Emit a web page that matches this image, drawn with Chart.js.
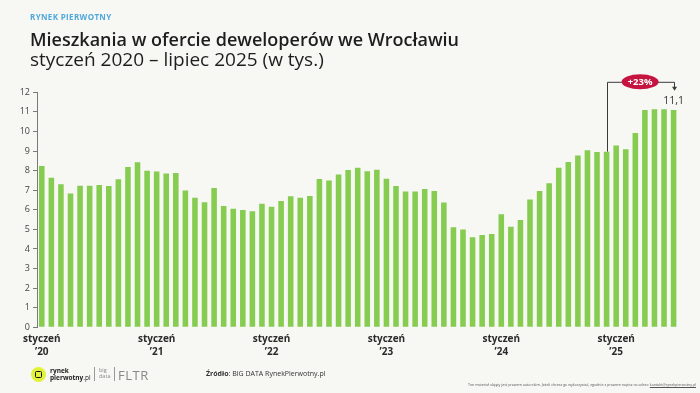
<!DOCTYPE html>
<html><head><meta charset="utf-8">
<script src="https://cdn.jsdelivr.net/npm/chart.js@4.4.1/dist/chart.umd.min.js"></script>
<style>
html,body{margin:0;padding:0;background:#f7f7f4;width:700px;height:393px;overflow:hidden;}
#wrap{position:relative;width:700px;height:393px;font-family:"Open Sans",sans-serif;}
#c{position:absolute;left:0;top:0;}
.kicker{position:absolute;left:30px;top:11px;font-size:8px;font-weight:700;color:#4ea8dc;letter-spacing:0.35px;white-space:nowrap;}
.title{position:absolute;left:30px;top:30px;font-size:19px;line-height:19.5px;color:#1e1e1e;white-space:nowrap;}
.title b{font-weight:600;font-size:18px;}
.logo{position:absolute;left:31px;top:367px;width:15px;height:15px;border-radius:50%;background:#e2f23a;}
.logo i{position:absolute;left:4px;top:4px;width:5px;height:5px;border:1.6px solid #111;border-radius:1.5px;}
.rp{position:absolute;left:50px;top:368px;font-size:6.5px;line-height:6.5px;font-weight:700;color:#222;}
.rp span{font-weight:400;}
.sep{position:absolute;top:367px;width:1px;height:14px;background:#999;}
.bd{position:absolute;left:99px;top:368px;font-size:5.5px;line-height:5.5px;color:#888;}
.fltr{position:absolute;left:118px;top:366px;font-size:13px;color:#888;letter-spacing:0.5px;}
.src{position:absolute;left:206px;top:369px;font-size:7px;color:#333;white-space:nowrap;}
.src b{font-weight:700;}
.disc{position:absolute;right:4px;top:382px;font-size:3.6px;color:#555;white-space:nowrap;}
.disc u{color:#555;}
</style></head>
<body><div id="wrap">
<canvas id="c" width="700" height="393"></canvas>
<div class="kicker">RYNEK PIERWOTNY</div>
<div class="title"><b>Mieszkania w ofercie deweloperów we Wrocławiu</b><br>styczeń 2020 – lipiec 2025 (w tys.)</div>
<div class="logo"><i></i></div>
<div class="rp">rynek<br>pierwotny<span>.pl</span></div>
<div class="sep" style="left:94px"></div>
<div class="bd">big<br>data</div>
<div class="sep" style="left:114px"></div>
<div class="fltr">FLTR</div>
<div class="src"><b>Źródło</b>: BIG DATA RynekPierwotny.pl</div>
<div class="disc">Ten materiał objęty jest prawem autorskim. Jeżeli chcesz go wykorzystać, zgodnie z prawem napisz na adres: <u>kontakt@rynekpierwotny.pl</u></div>
</div>
<script>
const months = [
 '2020-01','2020-02','2020-03','2020-04','2020-05','2020-06','2020-07','2020-08','2020-09','2020-10','2020-11','2020-12',
 '2021-01','2021-02','2021-03','2021-04','2021-05','2021-06','2021-07','2021-08','2021-09','2021-10','2021-11','2021-12',
 '2022-01','2022-02','2022-03','2022-04','2022-05','2022-06','2022-07','2022-08','2022-09','2022-10','2022-11','2022-12',
 '2023-01','2023-02','2023-03','2023-04','2023-05','2023-06','2023-07','2023-08','2023-09','2023-10','2023-11','2023-12',
 '2024-01','2024-02','2024-03','2024-04','2024-05','2024-06','2024-07','2024-08','2024-09','2024-10','2024-11','2024-12',
 '2025-01','2025-02','2025-03','2025-04','2025-05','2025-06','2025-07'
];
const offers = [
 8.24,7.64,7.30,6.83,7.23,7.23,7.27,7.22,7.56,8.19,8.43,8.00,
 7.95,7.85,7.88,6.98,6.62,6.38,7.11,6.20,6.05,5.99,5.92,6.31,
 6.16,6.45,6.69,6.62,6.71,7.57,7.49,7.80,8.03,8.15,7.97,8.05,
 7.59,7.22,6.93,6.93,7.06,6.96,6.37,5.11,4.99,4.60,4.71,4.76,
 5.77,5.14,5.48,6.52,6.96,7.35,8.15,8.44,8.77,9.04,8.95,8.97,
 9.28,9.09,9.92,11.10,11.13,11.13,11.10
];
const xTickMonths = ['2020-01','2021-01','2022-01','2023-01','2024-01','2025-01'];
const xTickLabels = [['styczeń','’20'],['styczeń','’21'],['styczeń','’22'],['styczeń','’23'],['styczeń','’24'],['styczeń','’25']];
const yTicks = [0,1,2,3,4,5,6,7,8,9,10,11,12];
const changeFrom = '2024-12';
const changeTo = '2025-07';
const changeText = '+23%';
const lastValueText = '11,1';

const annot = {
  id:'annot',
  afterDatasetsDraw(chart){
    const ctx = chart.ctx, meta = chart.getDatasetMeta(0);
    const a = meta.data[months.indexOf(changeFrom)], b = meta.data[months.indexOf(changeTo)];
    const yTop = chart.chartArea.top - 10.5;
    ctx.save();
    ctx.strokeStyle = '#3a3a3a'; ctx.lineWidth = 1;
    ctx.beginPath();
    ctx.moveTo(Math.round(a.x)+0.5, a.y);
    ctx.lineTo(Math.round(a.x)+0.5, yTop+0.5);
    ctx.lineTo(Math.round(b.x)+0.5, yTop+0.5);
    ctx.lineTo(Math.round(b.x)+0.5, yTop+6);
    ctx.stroke();
    ctx.fillStyle = '#3a3a3a';
    ctx.beginPath();
    const bx = Math.round(b.x)+0.5;
    ctx.moveTo(bx-2.5, yTop+5); ctx.lineTo(bx+2.5, yTop+5); ctx.lineTo(bx, yTop+9); ctx.closePath(); ctx.fill();
    const cx = (a.x+b.x)/2, w = 37, h = 15;
    ctx.fillStyle = '#c5143f';
    ctx.beginPath();
    ctx.ellipse(cx, yTop, w/2, h/2, 0, 0, Math.PI*2);
    ctx.fill();
    ctx.fillStyle = '#ffffff';
    ctx.font = '700 9.5px "Open Sans"';
    ctx.textAlign = 'center'; ctx.textBaseline = 'middle';
    ctx.fillText(changeText, cx, yTop+0.5);
    ctx.fillStyle = '#333';
    ctx.font = '400 10.5px "Open Sans"';
    ctx.textBaseline = 'bottom';
    ctx.fillText(lastValueText, b.x, b.y - 4);
    ctx.restore();
  }
};

new Chart(document.getElementById('c'), {
  type:'bar',
  data:{ labels: months, datasets:[{ data: offers, backgroundColor:'#85cc50', barPercentage:0.58, categoryPercentage:1.0 }]},
  options:{
    responsive:false, animation:false,
    layout:{ padding:{ left:0, right:21.6, top:92.3, bottom:0 } },
    plugins:{ legend:{display:false}, tooltip:{enabled:false} },
    scales:{
      x:{
        grid:{display:false}, border:{display:false},
        afterFit(s){ s.height = 65.7; },
        ticks:{
          autoSkip:false, maxRotation:0, minRotation:0, padding:-3,
          color:'#2b2b2b', font:{family:'"Open Sans"', size:10, weight:'700', lineHeight:1.35},
          callback(v, i){ const k = xTickMonths.indexOf(months[i]); return k >= 0 ? xTickLabels[k] : ''; }
        }
      },
      y:{
        min:0, max:12,
        afterFit(s){ s.width = 37; },
        afterBuildTicks(s){ s.ticks = yTicks.map(v => ({value:v})); },
        grid:{ drawOnChartArea:false, tickLength:4, color:'#7a7a7a' },
        border:{ display:true, color:'#7a7a7a' },
        ticks:{ padding:3, color:'#444', font:{family:'"Open Sans"', size:9, weight:'400'} }
      }
    }
  },
  plugins:[annot]
});
</script>
</body></html>
